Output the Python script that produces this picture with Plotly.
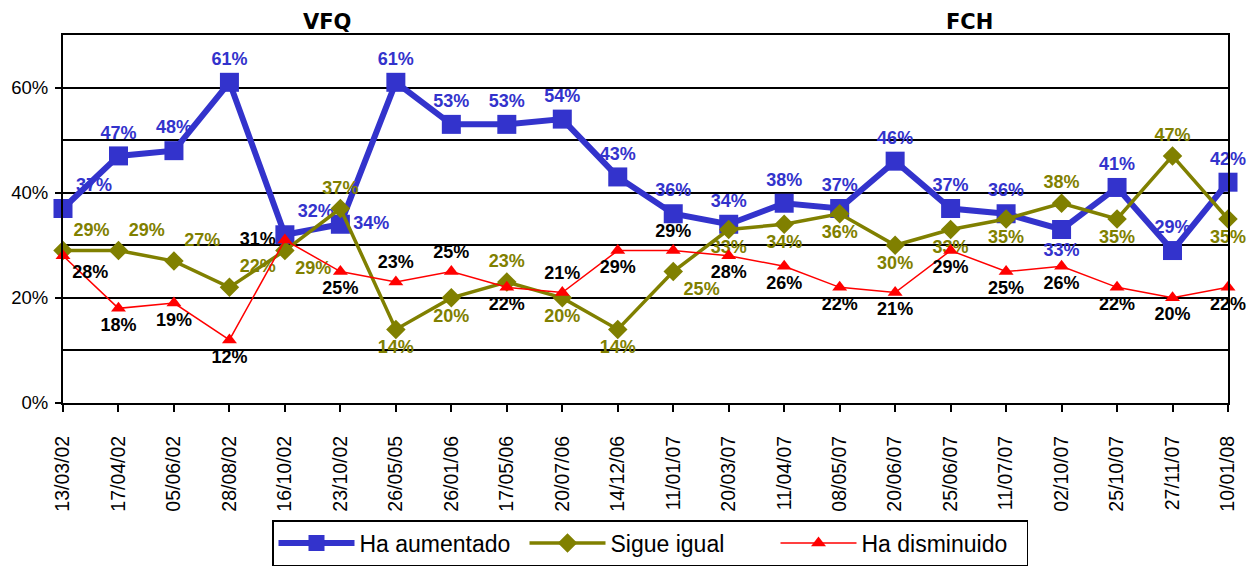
import plotly.graph_objects as go

fechas = ["13/03/02", "17/04/02", "05/06/02", "28/08/02", "16/10/02", "23/10/02",
          "26/05/05", "26/01/06", "17/05/06", "20/07/06", "14/12/06", "11/01/07",
          "20/03/07", "11/04/07", "08/05/07", "20/06/07", "25/06/07", "11/07/07",
          "02/10/07", "25/10/07", "27/11/07", "10/01/08"]
ha_aumentado = [37, 47, 48, 61, 32, 34, 61, 53, 53, 54, 43, 36, 34, 38, 37, 46, 37, 36, 33, 41, 29, 42]
sigue_igual = [29, 29, 27, 22, 29, 37, 14, 20, 23, 20, 14, 25, 33, 34, 36, 30, 33, 35, 38, 35, 47, 35]
ha_disminuido = [28, 18, 19, 12, 31, 25, 23, 25, 22, 21, 29, 29, 28, 26, 22, 21, 29, 25, 26, 22, 20, 22]

# label placement (style)
pos_aum = ["top right", "top center", "top center", "top center", "top right", "middle right",
           "top center", "top center", "top center", "top center", "top center", "top center",
           "top center", "top center", "top center", "top center", "top center", "top center",
           "bottom center", "top center", "top center", "top center"]
pos_ig = ["top right", "top right", "top right", "top right", "bottom right", "top center",
          "bottom center", "bottom center", "top center", "bottom center", "bottom center", "bottom right",
          "bottom center", "bottom center", "bottom center", "bottom center", "bottom center", "bottom center",
          "top center", "bottom center", "top center", "bottom center"]
pos_dis = ["bottom right", "bottom center", "bottom center", "bottom center", "middle left", "bottom center",
           "top center", "top center", "bottom center", "top center", "bottom center", "top center",
           "bottom center", "bottom center", "bottom center", "bottom center", "bottom center", "bottom center",
           "bottom center", "bottom center", "bottom center", "bottom center"]

x = list(range(len(fechas)))
lab_font = "Liberation Sans, Arial, sans-serif"

W, H = 1247, 563  # page has an 8px body margin

fig = go.Figure()
fig.add_trace(go.Scatter(
    x=x, y=[v / 100 for v in ha_aumentado], name="Ha aumentado", mode="lines+markers+text",
    line=dict(color="#3333CC", width=6),
    marker=dict(symbol="square", size=19, color="#3333CC"),
    text=[f"{v}%" for v in ha_aumentado], textposition=pos_aum,
    textfont=dict(color="#3333CC", size=18, family=lab_font, weight="bold"),
    cliponaxis=False))
fig.add_trace(go.Scatter(
    x=x, y=[v / 100 for v in sigue_igual], name="Sigue igual", mode="lines+markers+text",
    line=dict(color="#808000", width=3.5),
    marker=dict(symbol="diamond", size=15, color="#808000"),
    text=[f"{v}%" for v in sigue_igual], textposition=pos_ig,
    textfont=dict(color="#808000", size=18, family=lab_font, weight="bold"),
    cliponaxis=False))
fig.add_trace(go.Scatter(
    x=x, y=[v / 100 for v in ha_disminuido], name="Ha disminuido", mode="lines+markers+text",
    line=dict(color="#FF0000", width=1.5),
    marker=dict(symbol="triangle-up", size=13, color="#FF0000"),
    text=[f"{v}%" for v in ha_disminuido], textposition=pos_dis,
    textfont=dict(color="#000000", size=18, family=lab_font, weight="bold"),
    cliponaxis=False))

fig.update_layout(
    width=W, height=H,
    margin=dict(l=55, r=27, t=27, b=168, autoexpand=False),
    paper_bgcolor="white", plot_bgcolor="white",
    font=dict(family=lab_font, color="black"),
    showlegend=True,
    legend=dict(orientation="h", xref="container", yref="container",
                x=642 / W, xanchor="center", y=(H - 512) / H, yanchor="top",
                bordercolor="black", borderwidth=1.5, font=dict(size=23, family=lab_font),
                itemwidth=76, entrywidth=160, entrywidthmode="pixels"),
    annotations=[
        dict(text="<b>VFQ</b>", xref="paper", yref="paper", x=(327 - 63) / 1165, y=1.0,
             xanchor="center", yanchor="middle", yshift=13, showarrow=False,
             font=dict(size=21, family="DejaVu Sans, Verdana, sans-serif")),
        dict(text="<b>FCH</b>", xref="paper", yref="paper", x=(969 - 63) / 1165, y=1.0,
             xanchor="center", yanchor="middle", yshift=13, showarrow=False,
             font=dict(size=21, family="DejaVu Sans, Verdana, sans-serif")),
    ],
)
fig.update_xaxes(
    range=[0, len(fechas) - 1], tickmode="array", tickvals=x, ticktext=fechas,
    tickangle=-90, ticks="outside", ticklen=7, tickwidth=1.5, tickcolor="black",
    ticklabelstandoff=16, automargin=False,
    showline=True, linecolor="black", linewidth=2, mirror=True,
    showgrid=False, zeroline=False, tickfont=dict(size=19.5, family=lab_font))
fig.update_yaxes(
    range=[0, 0.7], tickvals=[0, 0.2, 0.4, 0.6], tickformat=".0%",
    ticks="outside", ticklen=6, tickwidth=1.5, tickcolor="black", automargin=False,
    ticklabelstandoff=3,
    showline=True, linecolor="black", linewidth=2, mirror=True,
    showgrid=True, gridcolor="black", gridwidth=1.5, zeroline=False,
    minor=dict(dtick=0.1, showgrid=True, gridcolor="black", gridwidth=1.5),
    tickfont=dict(size=18.5, family=lab_font))

fig.write_html("out.html")
